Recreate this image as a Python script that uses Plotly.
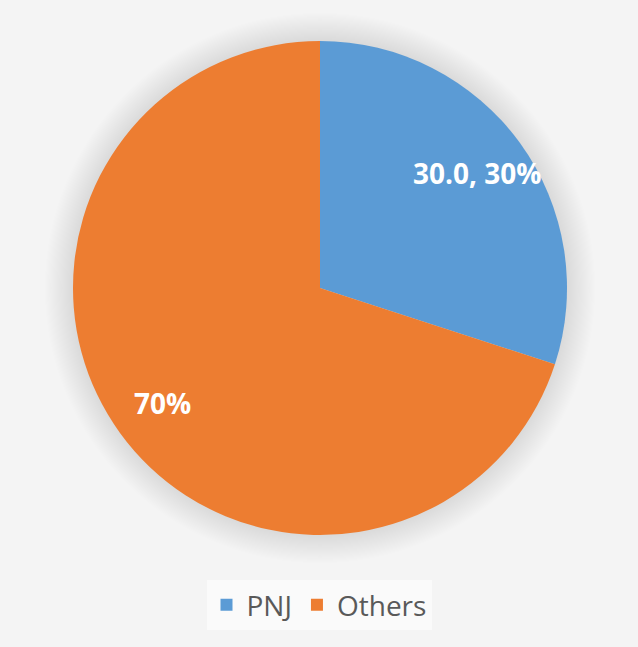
import math
import plotly.graph_objects as go

# Daten
labels = ["PNJ", "Others"]
values = [30.0, 70.0]
colors = ["#5B9BD5", "#ED7D31"]
show_value = [True, False]  # PNJ zeigt Wert + Prozent, Others nur Prozent

W, H = 638, 647
cx, cy, R = 320, 288, 247  # Pixel-Layout des Kreises

fig = go.Figure(go.Pie(
    labels=labels,
    values=values,
    sort=False,
    direction="clockwise",
    marker=dict(colors=colors, line=dict(width=0)),
    textinfo="none",
    domain=dict(x=[(cx - R) / W, (cx + R) / W], y=[(H - cy - R) / H, (H - cy + R) / H]),
    hoverinfo="label+value+percent",
))

# Beschriftungen wie im Original bei ca. 79% des Radius
total = sum(values)
annotations = []
start = 0.0
for v, sv in zip(values, show_value):
    pct = 100 * v / total
    mid = start + v / total * 360 / 2
    start += v / total * 360
    ang = math.radians(90 - mid)
    px_ = cx + 0.79 * R * math.cos(ang)
    py_ = cy - 0.79 * R * math.sin(ang)
    txt = f"{v:.1f}, {pct:.0f}%" if sv else f"{pct:.0f}%"
    annotations.append(dict(
        x=px_ / W, y=1 - py_ / H, xref="paper", yref="paper", text=txt, showarrow=False,
        xanchor="center", yanchor="middle",
        font=dict(family="Open Sans", size=28, color="white", weight="bold"),
    ))

# weicher Schatten um den Kreis
shapes = []
for i in range(26, 0, -1):
    r = R + i * 1.1
    shapes.append(dict(
        type="circle", xref="paper", yref="paper", layer="below",
        x0=(cx - r) / W, x1=(cx + r) / W,
        y0=(H - cy - r) / H, y1=(H - cy + r) / H,
        fillcolor="rgba(0,0,0,0.0055)", line=dict(width=0),
    ))

fig.update_layout(
    width=W, height=H,
    margin=dict(l=0, r=0, t=0, b=0),
    paper_bgcolor="#f4f4f4",
    plot_bgcolor="#f4f4f4",
    shapes=shapes,
    annotations=annotations,
    showlegend=True,
    legend=dict(
        orientation="h", x=0.5, xanchor="center", y=(H - 605) / H, yanchor="middle",
        bgcolor="#fafafa", font=dict(family="Open Sans", size=28, color="#595959"),
        borderwidth=0, itemwidth=30,
    ),
)

fig.write_html("out.html", config={"displayModeBar": False},
               post_script="document.body.style.margin='0';")
